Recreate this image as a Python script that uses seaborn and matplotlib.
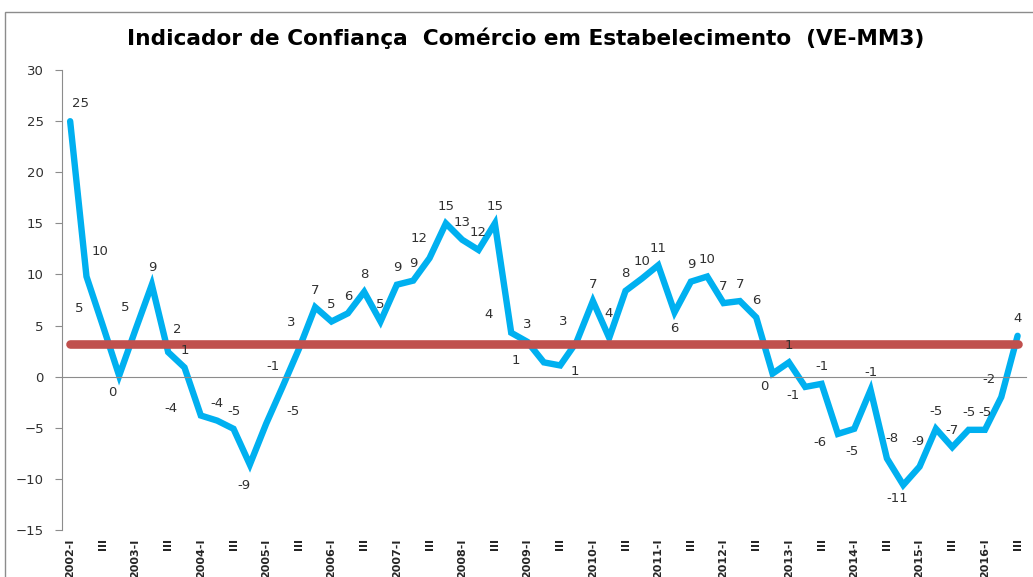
import numpy as np
import pandas as pd
import matplotlib
matplotlib.use("Agg")
import matplotlib.pyplot as plt
import seaborn as sns
from matplotlib.patches import Rectangle

# Indicador trimestral (VE-MM3), 2002-I .. 2016-III
years = list(range(2002, 2017))
quarters = ["I", "II", "III", "IV"]
values = [
    25.0, 9.8, 5.0, 0.1,
    4.6, 9.0, 2.4, 0.9,
    -3.8, -4.3, -5.1, -8.6,
    -4.6, -1.0, 2.7, 6.8,
    5.4, 6.2, 8.3, 5.4,
    9.0, 9.4, 11.6, 15.0,
    13.4, 12.4, 15.0, 4.3,
    3.4, 1.4, 1.1, 3.4,
    7.4, 3.8, 8.4, 9.6,
    10.9, 6.3, 9.3, 9.8,
    7.2, 7.4, 5.8, 0.3,
    1.4, -1.0, -0.7, -5.6,
    -5.1, -1.3, -8.0, -10.6,
    -8.8, -5.1, -6.9, -5.2,
    -5.2, -2.0, 4.0,
]
title = "Indicador de Confiança  Comércio em Estabelecimento  (VE-MM3)"

periods = [f"{y}-{q}" for y in years for q in quarters][:len(values)]
df = pd.DataFrame({"periodo": periods, "valor": values})
df["pos"] = np.arange(len(df))
df["media"] = df["valor"].mean()

# tick labels: "2002-I", "III", "2003-I", ...
tick_labels = [p if p.endswith("-I") else p.split("-")[1] for p in periods]

# label offsets (pixels, image direction) where excel labels were moved
label_offsets = {
    0: (10, -18), 1: (14, -25), 2: (-24, -17), 3: (-7, 17), 4: (-10, -22),
    6: (9, -23), 8: (-30, -7), 11: (-6, 21), 12: (27, -12), 13: (-10, -20),
    14: (-8, -27), 22: (-10, -20), 27: (-23, -18), 29: (-28, -2), 30: (15, 6),
    31: (-13, -20), 33: (-1, -24), 37: (0, 16), 43: (-8, 13), 45: (-12, 9),
    47: (-18, 9), 48: (-2, 23), 50: (5, -20), 51: (-6, 13), 52: (-2, -25),
    57: (-12, -18),
}

sns.set_style("white")
plt.rcParams["font.family"] = ["DejaVu Sans"]

fig = plt.figure(figsize=(10.33, 5.77), dpi=100)
ax = fig.add_axes([0.060, 0.0815, 0.933, 0.797])

sns.lineplot(data=df, x="pos", y="valor", ax=ax, color="#00B0F0", linewidth=4.6,
             solid_joinstyle="miter", zorder=2)
ax.plot(df["pos"], df["media"], color="#C0504D", linewidth=6.2,
        solid_capstyle="round", zorder=3)

for i, v in enumerate(values):
    dx, dy = label_offsets.get(i, (0, -17))
    ax.annotate(f"{v:.0f}", (i, v), xytext=(dx, -dy), textcoords="offset pixels",
                ha="center", va="center", fontsize=9.5, color="#303030", zorder=4)

ax.set_xlim(-0.5, len(values) - 0.5)
ax.set_ylim(-15, 30)
ax.set_yticks(range(-15, 31, 5))
ax.set_xlabel("")
ax.set_ylabel("")

grey = "#8c8c8c"
for s in ["top", "right"]:
    ax.spines[s].set_visible(False)
ax.spines["left"].set_color(grey)
ax.spines["bottom"].set_color(grey)
ax.spines["bottom"].set_position(("data", 0))
ax.set_xticks([])
ax.set_xticks(np.arange(-0.5, len(values), 1), minor=True)
ax.tick_params(axis="x", which="minor", length=5, color=grey, direction="out")
ax.tick_params(axis="y", length=5, color=grey, labelsize=9.5, labelcolor="#303030",
               left=True, pad=8)

sec = ax.secondary_xaxis("bottom")
sec.set_xticks(df["pos"][::2], tick_labels[::2])
sec.tick_params(length=0, pad=6, labelsize=8)
for lbl in sec.get_xticklabels():
    lbl.set_rotation(90)
    lbl.set_fontweight("bold")
sec.spines["bottom"].set_visible(False)

fig.text(0.509, 0.934, title, ha="center", va="center", fontsize=15.6,
         fontweight="bold", color="#000000")

fig.patches.append(Rectangle((5 / 1033, -0.05), 1.1, 1 - 12 / 577 + 0.05,
                             transform=fig.transFigure, fill=False,
                             edgecolor=grey, linewidth=1))

fig.savefig("out.png", dpi=100)
